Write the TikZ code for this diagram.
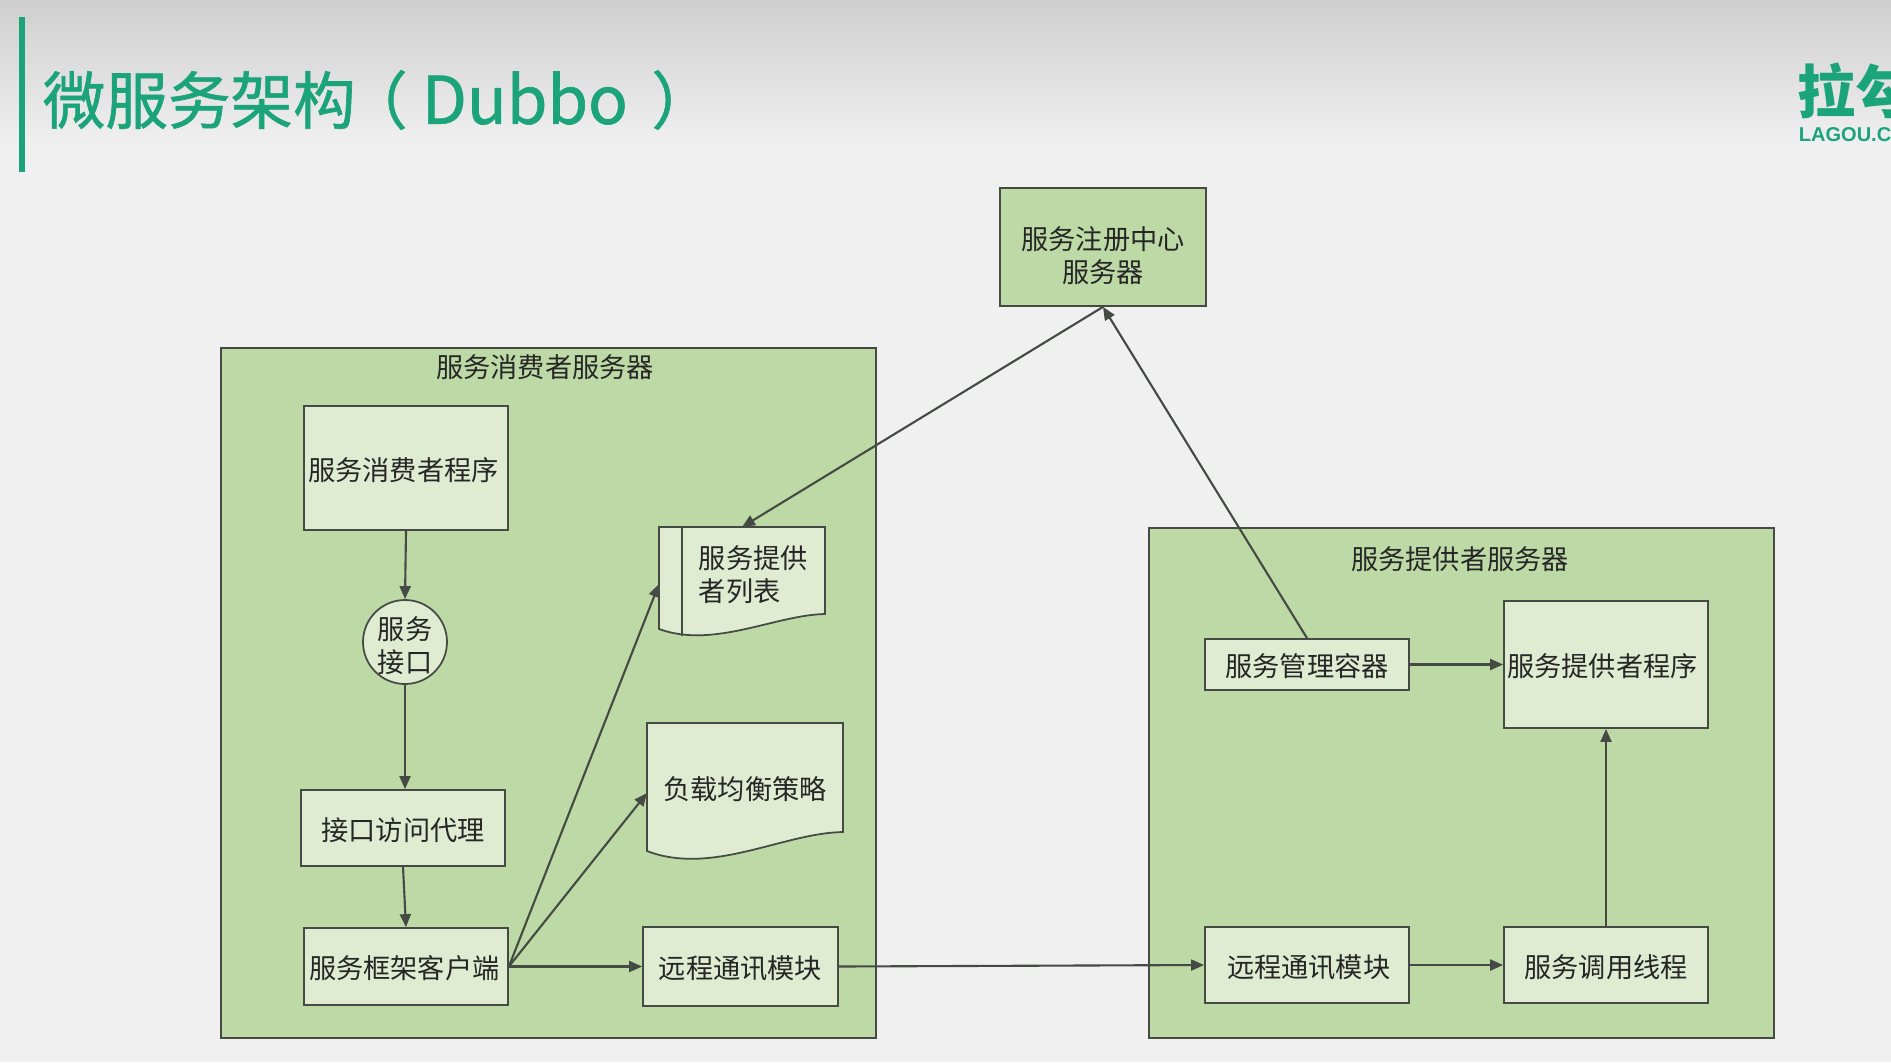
\documentclass[tikz,border=0pt]{standalone}
\usepackage{fontspec}
\setmainfont{Noto Sans CJK SC}
\newfontfamily\latinfont{Liberation Sans}
\newfontfamily\titlefont[FakeBold=1]{Noto Sans CJK SC}
\usetikzlibrary{arrows.meta}
\definecolor{outergreen}{HTML}{BDDAA6}
\definecolor{innergreen}{HTML}{DFECD2}
\definecolor{linegrey}{HTML}{454A44}
\definecolor{titlegreen}{HTML}{1BA37A}
\definecolor{pagegrey}{HTML}{F0F0F0}
\tikzset{box/.style={rectangle,draw=linegrey,line width=.5pt,fill=innergreen,text=black!85,minimum width=2.04cm,inner sep=0pt,font=\fontsize{7.74}{9.3}\selectfont,align=center,text height=7.7pt}}
\tikzset{twolines/.style={text height={}}}
\tikzset{outer/.style={box,fill=outergreen}}
\tikzset{t/.style={box,draw=none,fill=none,minimum width=0pt}}
\tikzset{docspot/.style={rectangle,inner sep=0pt,outer sep=0pt}}
\tikzset{docshape/.style={draw=linegrey,line width=.5pt,fill=innergreen}}
\tikzset{arrow/.style={draw=linegrey,line width=.6pt,-{Triangle[length=1.3mm,width=1.1mm]}}}

\begin{document}
\begin{tikzpicture}
      \useasboundingbox (0,0) rectangle (18.91,-10.62);
      \fill[pagegrey] (0,0) rectangle (18.91,-10.62);
      \shade[top color=black!19,bottom color=pagegrey] (0,0) rectangle (18.91,-1.45);
      \fill[titlegreen] (0.19,-0.17) rectangle (0.25,-1.72);
      \node[t,twolines,anchor=west,text=titlegreen,font=\fontsize{17.8}{20}\titlefont] (title) at (0.42,-1.0) {微服务架构\kern-3pt（ {\fontsize{18.7}{20}\selectfont Dubbo} \kern2.7pt）};
      \node[t,twolines,anchor=west,text=titlegreen,font=\fontsize{16.5}{18}\selectfont\bfseries] (logo) at (17.97,-0.91) {拉勾};
      \node[t,twolines,anchor=west,text=titlegreen,font=\fontsize{5.7}{7}\latinfont\bfseries] (logourl) at (17.98,-1.35) {LAGOU.COM};
      % the two servers
      \node[outer,twolines,minimum width=6.55cm,minimum height=6.9cm] (consumerserver) at (5.485,-6.93) {};
      \node[outer,twolines,minimum width=6.25cm,minimum height=5.1cm] (providerserver) at (14.615,-7.83) {};
      \node[t] (consumertitle) at (5.45,-3.65) {服务消费者服务器};
      \node[t] (providertitle) at (14.6,-5.57) {服务提供者服务器};
      % registry
      \node[box,twolines,minimum width=2.06cm,minimum height=1.18cm,fill=outergreen] (registry) at (11.03,-2.47) {\rule{0pt}{11.6pt}服务注册中心\\服务器};
      % consumer side
      \node[box,minimum height=1.24cm] (consumer) at (4.06,-4.68) {服务消费者程序\kern1.4pt};
      \node[box,twolines,circle,inner sep=-.5pt,minimum width=.84cm] (iface) at (4.05,-6.42) {\rule{0pt}{8.5pt}服务\\接口};
      \node[box,minimum height=.76cm] (proxy) at (4.03,-8.28) {接口访问代理};
      \node[box,minimum height=.77cm] (client) at (4.06,-9.665) {服务框架客户端\kern1pt};
      \node[box,minimum width=1.95cm,minimum height=.79cm] (remotel) at (7.405,-9.665) {远程通讯模块};
      % the two paper shapes
      \node[docspot,minimum width=1.66cm,minimum height=1.02cm] (list) at (7.42,-5.78) {};
      \draw[docshape] (list.south west) .. controls +(.55,-.2) and +(-.5,-.01) .. +(1.66,.15) -- (list.north east) -- (list.north west) -- cycle;
      \draw[docshape] ([xshift=.23cm]list.north west) -- +(0,-1.09);
      \node[t,twolines,align=left,anchor=west] (listtext) at (6.98,-5.75) {服务提供\\者列表};
      \node[docspot,minimum width=1.96cm,minimum height=1.28cm] (load) at (7.45,-7.87) {};
      \draw[docshape] (load.south west) .. controls +(.65,-.25) and +(-.6,-.01) .. +(1.96,.19) -- (load.north east) -- (load.north west) -- cycle;
      \node[t] (loadtext) at (7.45,-7.87) {负载均衡策略};
      % provider side
      \node[box,minimum height=.51cm] (manager) at (13.07,-6.645) {服务管理容器};
      \node[box,minimum height=1.27cm] (provider) at (16.06,-6.645) {服务提供者程序\kern2pt};
      \node[box,minimum height=.76cm] (remoter) at (13.07,-9.65) {\kern1pt远程通讯模块};
      \node[box,minimum height=.76cm] (worker) at (16.06,-9.65) {服务调用线程};
      \foreach \a/\b in {consumer.south/iface.north,proxy.south/client.north,client.east/remotel.west,remotel.east/remoter.west,remoter.east/worker.west,worker.north/provider.south,manager.east/provider.west,manager.north/registry.south,registry.south/list.north}
        \draw[arrow] (\a) -- (\b);
      \draw[arrow] (iface.south) -- ([xshift=.02cm]proxy.north);
      \draw[arrow] (client.east) -- ([yshift=-.06cm]list.west);
      \draw[arrow] (client.east) -- ([yshift=-.06cm]load.west);
    \end{tikzpicture}
\end{document}
